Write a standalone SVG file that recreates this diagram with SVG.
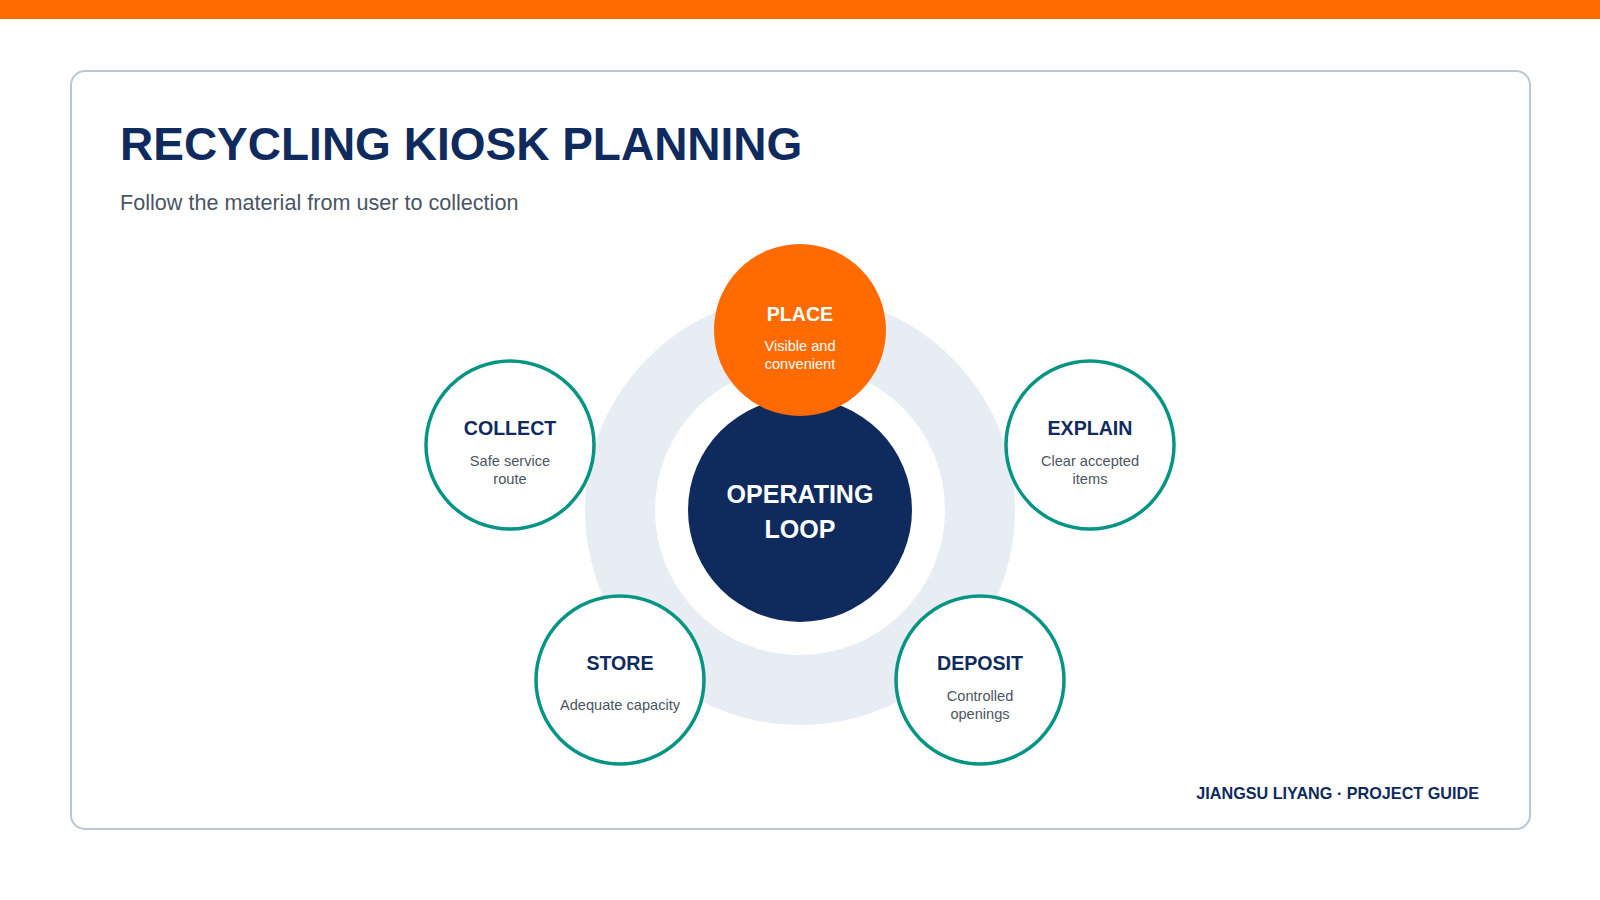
<svg xmlns="http://www.w3.org/2000/svg" width="1600" height="900" viewBox="0 0 1600 900">
<style>
text{font-family:"Liberation Sans",Arial,sans-serif;}
.title{font-size:46px;font-weight:bold;fill:#0F2B5E;}
.sub{font-size:21.6px;fill:#4B5563;}
.ntitle{font-size:19.6px;font-weight:bold;fill:#0F2B5E;text-anchor:middle;}
.ndesc{font-size:14.6px;fill:#4B5563;text-anchor:middle;}
.step{fill:#FFFFFF;stroke:#069484;stroke-width:3.5;}
.foot{font-size:16.2px;font-weight:bold;fill:#0F2B5E;text-anchor:end;}
</style>
<rect x="0" y="0" width="1600" height="900" fill="#FFFFFF"/>
<rect x="0" y="0" width="1600" height="19" fill="#FF6B00"/>
<rect x="71" y="71" width="1459" height="758" rx="14" fill="#FFFFFF" stroke="#BAC6D4" stroke-width="2"/>
<text class="title" x="120" y="160">RECYCLING KIOSK PLANNING</text>
<text class="sub" x="120" y="210">Follow the material from user to collection</text>
<g id="ring">
<circle cx="800" cy="510" r="180" fill="none" stroke="#E8EDF3" stroke-width="70"/>
</g>
<g id="connectors"></g>
<g id="center">
<circle cx="800" cy="510" r="112" fill="#0F2B5E"/>
<text x="800" y="503" font-size="25" font-weight="bold" fill="#FFFFFF" text-anchor="middle">OPERATING</text>
<text x="800" y="538" font-size="25" font-weight="bold" fill="#FFFFFF" text-anchor="middle">LOOP</text>
</g>
<g id="place">
<circle cx="800" cy="330" r="86" fill="#FF6B00"/>
<text class="ntitle" x="800" y="321" style="fill:#FFFFFF">PLACE</text>
<text class="ndesc" x="800" y="351" style="fill:#FFFFFF">Visible and</text>
<text class="ndesc" x="800" y="369" style="fill:#FFFFFF">convenient</text>
</g>
<g id="explain">
<circle class="step" cx="1090" cy="445" r="84"/>
<text class="ntitle" x="1090" y="435">EXPLAIN</text>
<text class="ndesc" x="1090" y="466">Clear accepted</text>
<text class="ndesc" x="1090" y="484">items</text>
</g>
<g id="deposit">
<circle class="step" cx="980" cy="680" r="84"/>
<text class="ntitle" x="980" y="670">DEPOSIT</text>
<text class="ndesc" x="980" y="701">Controlled</text>
<text class="ndesc" x="980" y="719">openings</text>
</g>
<g id="store">
<circle class="step" cx="620" cy="680" r="84"/>
<text class="ntitle" x="620" y="670">STORE</text>
<text class="ndesc" x="620" y="710">Adequate capacity</text>
</g>
<g id="collect">
<circle class="step" cx="510" cy="445" r="84"/>
<text class="ntitle" x="510" y="435">COLLECT</text>
<text class="ndesc" x="510" y="466">Safe service</text>
<text class="ndesc" x="510" y="484">route</text>
</g>
<text class="foot" x="1479" y="799">JIANGSU LIYANG · PROJECT GUIDE</text>
</svg>
